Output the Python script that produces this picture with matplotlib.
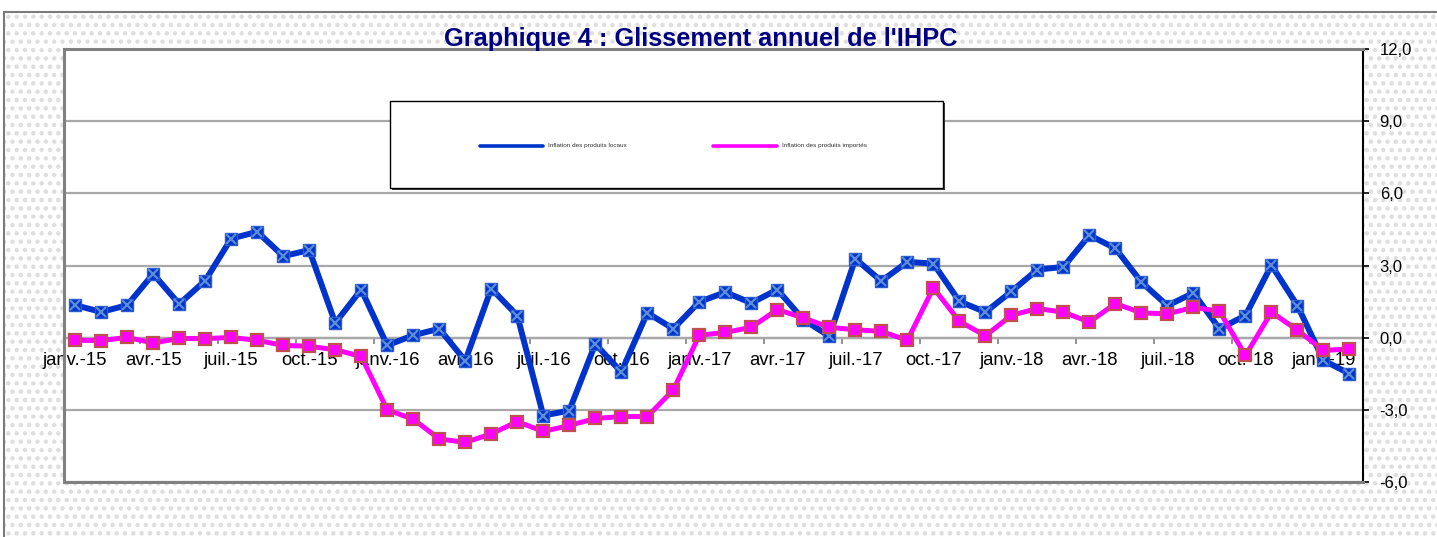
import matplotlib.pyplot as plt
from matplotlib.patches import Rectangle

plt.rcParams['font.family'] = ['Liberation Sans', 'DejaVu Sans']
plt.rcParams['hatch.linewidth'] = 2.0

# glissement annuel (%) janv.-15 .. févr.-19
locaux = [1.35, 1.07, 1.35, 2.65, 1.40, 2.37, 4.12, 4.40, 3.39, 3.64, 0.61, 2.00,
          -0.32, 0.10, 0.37, -0.96, 2.04, 0.92, -3.24, -3.03, -0.26, -1.43, 1.03, 0.37,
          1.49, 1.89, 1.44, 2.00, 0.75, 0.06, 3.28, 2.35, 3.15, 3.08, 1.51, 1.06,
          1.92, 2.83, 2.94, 4.26, 3.71, 2.31, 1.33, 1.86, 0.37, 0.92, 3.01, 1.33,
          -0.94, -1.50]
importes = [-0.11, -0.12, 0.01, -0.22, -0.03, -0.04, 0.01, -0.11, -0.32, -0.36, -0.50, -0.78,
            -3.00, -3.39, -4.21, -4.35, -4.00, -3.49, -3.90, -3.65, -3.36, -3.28, -3.28, -2.17,
            0.10, 0.22, 0.43, 1.17, 0.82, 0.43, 0.33, 0.26, -0.11, 2.07, 0.68, 0.08,
            0.93, 1.21, 1.06, 0.65, 1.42, 1.03, 0.99, 1.26, 1.10, -0.74, 1.06, 0.31,
            -0.53, -0.47]
etiquettes = ['janv.-15', 'avr.-15', 'juil.-15', 'oct.-15',
              'janv.-16', 'avr.-16', 'juil.-16', 'oct.-16',
              'janv.-17', 'avr.-17', 'juil.-17', 'oct.-17',
              'janv.-18', 'avr.-18', 'juil.-18', 'oct.-18', 'janv.-19']
yticks = [-6, -3, 0, 3, 6, 9, 12]

W, H = 1437, 537
x = list(range(len(locaux)))

fig = plt.figure(figsize=(W / 100, H / 100), dpi=100)
fig.patch.set_facecolor('white')

# dotted chart-area background + outer border
bg = Rectangle((4 / W, -0.1), 1.2, 1.1 - 12 / H, transform=fig.transFigure,
               facecolor='white', edgecolor='#dedede', hatch='..', lw=0, zorder=-10)
fig.patches.append(bg)
border = Rectangle((4 / W, -0.1), 1.2, 1.1 - 12 / H, transform=fig.transFigure,
                   facecolor='none', edgecolor='#7a7a7a', lw=1.5, zorder=-9)
fig.patches.append(border)

ax = fig.add_axes([64 / W, 1 - 482 / H, 1299 / W, 433 / H])
ax.set_facecolor('white')
ax.set_xlim(-0.43, 49.52)
ax.set_ylim(-6, 12)

ax.plot(x, locaux, color='#0033cc', lw=4.3, marker='s', ms=8.5,
        mfc='#0033cc', mec='#2a5bd0', zorder=4)
ax.plot(x, locaux, ls='none', marker='x', ms=7, mew=1.6, color='#5b8ed6', zorder=4)
ax.plot(x, importes, color='#ff00ff', lw=3.6, marker='s', ms=8,
        mfc='#ff00ff', mec='#c0504d', mew=1.6, zorder=5)

# frame
for s in ['left', 'top', 'bottom']:
    ax.spines[s].set_color('#808080')
    ax.spines[s].set_linewidth(2.2)
ax.spines['right'].set_color('black')
ax.spines['right'].set_linewidth(1.5)

ax.yaxis.tick_right()
ax.set_yticks(yticks)
ax.set_yticklabels([f"{v:.1f}".replace('.', ',') for v in yticks])
ax.tick_params(axis='y', direction='out', length=4, width=1.2, labelsize=12, pad=8)
ax.grid(axis='y', color='#a8a8a8', lw=1.6)
ax.set_axisbelow(True)
ax.set_xticks([])

# category axis crossing at 0
sec = ax.secondary_xaxis(0, transform=ax.transData)
sec.set_xticks(x[::3], labels=etiquettes)
sec.set_xticks([i + 0.5 for i in x[2::3]], minor=True)
sec.tick_params(axis='x', which='major', length=0, labelsize=13.3, pad=10)
sec.tick_params(axis='x', which='minor', length=4, width=1.2, color='#808080')
sec.spines['bottom'].set_color('#8c8c8c')
sec.spines['bottom'].set_linewidth(1.6)

# legend box
def fx(px):
    return (px - 64) / 1299

def fy(py):
    return (482 - py) / 433

ax.add_patch(Rectangle((fx(392), fy(190)), fx(945) - fx(392), fy(103) - fy(190),
                       transform=ax.transAxes, facecolor='#404040', lw=0, zorder=6))
ax.add_patch(Rectangle((fx(390), fy(188)), fx(943) - fx(390), fy(101) - fy(188),
                       transform=ax.transAxes, facecolor='white', edgecolor='black',
                       lw=1, zorder=7))
ax.plot([fx(480), fx(543)], [fy(146), fy(146)], transform=ax.transAxes,
        color='#0033cc', lw=2.6, solid_capstyle='round', zorder=8)
ax.text(fx(548), fy(146), 'Inflation des produits locaux', transform=ax.transAxes,
        fontsize=4.6, va='center', ha='left', color='#333333', zorder=8)
ax.plot([fx(713), fx(777)], [fy(146), fy(146)], transform=ax.transAxes,
        color='#ff00ff', lw=2.6, solid_capstyle='round', zorder=8)
ax.text(fx(782), fy(146), 'Inflation des produits importés', transform=ax.transAxes,
        fontsize=4.6, va='center', ha='left', color='#333333', zorder=8)

fig.text(701 / W, 1 - 39 / H, "Graphique 4 : Glissement annuel de l'IHPC",
         ha='center', va='center', fontsize=18.3, fontweight='bold', color='#000080')

fig.savefig('out.png', dpi=100)
